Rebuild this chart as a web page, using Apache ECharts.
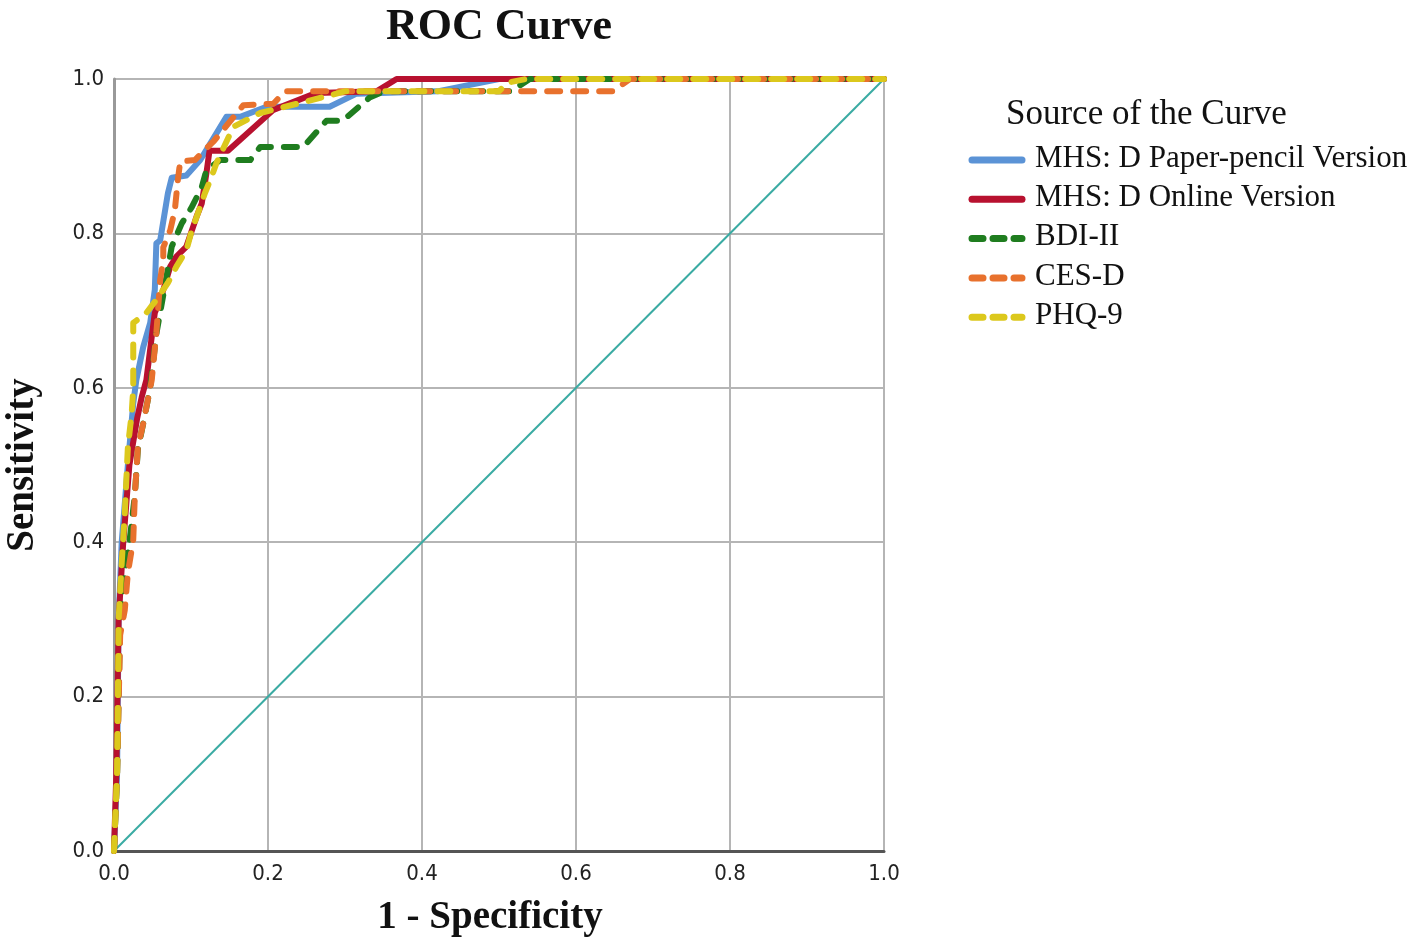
<!DOCTYPE html>
<html>
<head>
<meta charset="utf-8">
<script src="https://cdn.jsdelivr.net/npm/echarts@6/dist/echarts.min.js"></script>
<style>
html,body{margin:0;padding:0;background:#fff;}
#chart{width:1418px;height:946px;}
</style>
</head>
<body>
<div id="chart"></div>
<script>
// ---- data ----
const seriesNames = ['MHS: D Paper-pencil Version', 'MHS: D Online Version', 'BDI-II', 'CES-D', 'PHQ-9'];
const tickLabels = ['0.0', '0.2', '0.4', '0.6', '0.8', '1.0'];
const legendTitle = 'Source of the Curve';

const paperPencil = [[0,0],[0.004,0.1],[0.006,0.3],[0.01,0.4],[0.018,0.5],[0.025,0.58],[0.029,0.61],[0.038,0.653],[0.047,0.684],[0.053,0.727],[0.055,0.787],[0.060,0.791],[0.070,0.852],[0.075,0.872],[0.094,0.875],[0.112,0.895],[0.146,0.951],[0.164,0.951],[0.198,0.964],[0.28,0.964],[0.315,0.981],[0.42,0.984],[0.5,1.0],[1,1]];
const online = [[0,0],[0.003,0.1],[0.006,0.3],[0.012,0.4],[0.02,0.5],[0.03,0.56],[0.036,0.588],[0.042,0.61],[0.049,0.666],[0.053,0.697],[0.062,0.72],[0.073,0.757],[0.081,0.77],[0.094,0.783],[0.107,0.821],[0.114,0.839],[0.12,0.878],[0.124,0.907],[0.148,0.907],[0.207,0.96],[0.263,0.982],[0.341,0.984],[0.367,1.0],[1,1]];
const bdi = [[0,0],[0.004,0.1],[0.008,0.3],[0.014,0.36],[0.02,0.4],[0.027,0.46],[0.031,0.52],[0.038,0.554],[0.047,0.6],[0.055,0.67],[0.064,0.72],[0.075,0.783],[0.088,0.813],[0.101,0.834],[0.114,0.86],[0.12,0.882],[0.138,0.895],[0.177,0.895],[0.19,0.912],[0.246,0.912],[0.276,0.946],[0.297,0.946],[0.332,0.976],[0.35,0.984],[0.515,0.984],[0.54,1.0],[1,1]];
const cesd = [[0,0],[0.004,0.1],[0.008,0.28],[0.014,0.312],[0.018,0.36],[0.025,0.403],[0.027,0.459],[0.031,0.523],[0.038,0.554],[0.049,0.61],[0.055,0.671],[0.060,0.74],[0.064,0.766],[0.064,0.782],[0.073,0.804],[0.079,0.83],[0.083,0.87],[0.086,0.893],[0.105,0.895],[0.13,0.92],[0.168,0.966],[0.207,0.968],[0.222,0.984],[0.648,0.984],[0.67,1.0],[1,1]];
const phq = [[0,0],[0.004,0.1],[0.006,0.3],[0.01,0.373],[0.014,0.437],[0.018,0.523],[0.023,0.567],[0.025,0.6],[0.025,0.684],[0.042,0.697],[0.055,0.714],[0.070,0.736],[0.081,0.757],[0.094,0.778],[0.101,0.804],[0.109,0.826],[0.118,0.852],[0.125,0.869],[0.133,0.891],[0.155,0.938],[0.19,0.956],[0.242,0.969],[0.285,0.98],[0.3,0.984],[0.5,0.984],[0.51,0.995],[0.535,1.0],[1,1]];
const reference = [[0,0],[1,1]];

// ---- styles ----
const colors = ['#5b93d6', '#b8112f', '#1f7d1f', '#e8712d', '#dcc81c'];
const dashed = [false, false, true, true, true];
const dataSets = [paperPencil, online, bdi, cesd, phq];

const serif = "'Liberation Serif', 'Times New Roman', serif";
const narrow = "'Liberation Sans Narrow', 'Arial Narrow', 'DejaVu Sans Condensed', sans-serif";

const chart = echarts.init(document.getElementById('chart'), null, {renderer: 'canvas'});

const series = [{
  name: 'Reference',
  type: 'line',
  data: reference,
  symbol: 'none',
  silent: true,
  lineStyle: {color: '#3aaba3', width: 2},
  z: 2
}];
dataSets.forEach((d, i) => {
  series.push({
    name: seriesNames[i],
    type: 'line',
    data: d,
    symbol: 'none',
    silent: true,
    lineStyle: {
      color: colors[i],
      width: 6,
      type: dashed[i] ? [13, 13] : 'solid',
      cap: 'round',
      join: 'round'
    },
    z: 3 + i
  });
});

// legend drawn as graphics
const legendGraphics = [{
  type: 'text',
  left: 1006,
  top: 97,
  style: {text: legendTitle, font: '35px ' + serif, fill: '#111'}
}];
seriesNames.forEach((n, i) => {
  const cy = 160 + i * 39.3;
  legendGraphics.push({
    type: 'line',
    shape: {x1: 972, y1: cy, x2: 1022, y2: cy},
    style: {
      stroke: colors[i], lineWidth: 7, lineCap: 'round',
      lineDash: dashed[i] ? [11, 10] : null
    }
  });
  legendGraphics.push({
    type: 'text',
    left: 1035,
    top: cy - 17,
    style: {text: n, font: '31px ' + serif, fill: '#111'}
  });
});

chart.setOption({
  animation: false,
  backgroundColor: '#fff',
  title: {
    text: 'ROC Curve',
    left: 381,
    top: 1,
    textStyle: {fontFamily: serif, fontWeight: 'bold', fontSize: 44, color: '#111'}
  },
  grid: {left: 114, top: 79, right: 534, bottom: 95, containLabel: false, outerBoundsMode: 'none'},
  xAxis: {
    type: 'value', min: 0, max: 1, interval: 0.2,
    name: '1 - Specificity', nameLocation: 'middle', nameGap: 47,
    nameTextStyle: {fontFamily: serif, fontWeight: 'bold', fontSize: 39, color: '#111', padding: [0, 18, 0, 0]},
    axisLine: {show: true, onZero: false, lineStyle: {color: '#555', width: 3}},
    axisTick: {show: false},
    axisLabel: {
      margin: 12, fontFamily: narrow, fontSize: 22, color: '#222',
      formatter: v => tickLabels[Math.round(v * 5)]
    },
    splitLine: {show: true, lineStyle: {color: '#b5b5b5', width: 2}}
  },
  yAxis: {
    type: 'value', min: 0, max: 1, interval: 0.2,
    name: 'Sensitivity', nameLocation: 'middle', nameGap: 72, nameRotate: 90,
    nameTextStyle: {fontFamily: serif, fontWeight: 'bold', fontSize: 39, color: '#111'},
    axisLine: {show: true, onZero: false, lineStyle: {color: '#999', width: 3}},
    axisTick: {show: false},
    axisLabel: {
      margin: 10, fontFamily: narrow, fontSize: 22, color: '#222',
      formatter: v => tickLabels[Math.round(v * 5)]
    },
    splitLine: {show: true, lineStyle: {color: '#b5b5b5', width: 2}}
  },
  graphic: legendGraphics,
  series: series
});
</script>
</body>
</html>
